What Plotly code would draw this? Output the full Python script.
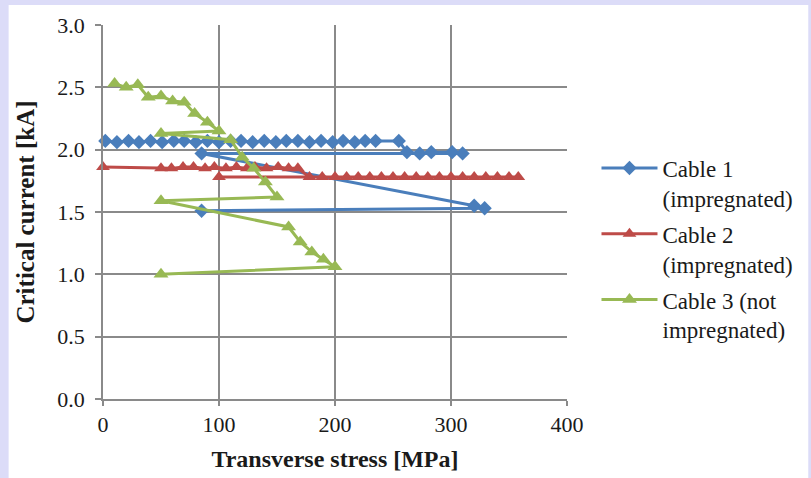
import plotly.graph_objects as go

# ---- data ----
cable1_x = [2, 12, 22, 31, 41, 51, 61, 70, 80, 90, 100, 110, 119, 129, 139, 149, 158, 168, 178, 188,
            198, 207, 217, 226, 235, 255,
            262, 273, 283, 301, 310,
            85, 320, 329, 85]
cable1_y = [2.07, 2.06, 2.07, 2.06, 2.07, 2.06, 2.07, 2.07, 2.06, 2.07, 2.06, 2.07, 2.07, 2.06, 2.07, 2.06, 2.07, 2.07, 2.06, 2.07,
            2.06, 2.07, 2.06, 2.07, 2.07, 2.07,
            1.98, 1.97, 1.98, 1.98, 1.97,
            1.97, 1.55, 1.53, 1.51]

cable2_x = [0, 50, 59, 69, 78, 88, 96, 106, 115, 124, 131, 141, 151, 160, 168,
            178, 189, 200, 210, 220, 230, 240, 250, 260, 270, 280, 290, 300, 310, 320, 330, 340, 350, 358,
            100]
cable2_y = [1.86, 1.85, 1.85, 1.86, 1.86, 1.85, 1.86, 1.85, 1.86, 1.85, 1.86, 1.85, 1.86, 1.85, 1.85,
            1.78, 1.78, 1.78, 1.78, 1.78, 1.78, 1.78, 1.78, 1.78, 1.78, 1.78, 1.78, 1.78, 1.78, 1.78, 1.78, 1.78, 1.78, 1.78,
            1.78]

cable3_x = [10, 20, 30, 39, 50, 60, 70, 79, 90, 100, 50, 110, 120, 130, 140, 150, 50,
            160, 170, 180, 190, 200, 50]
cable3_y = [2.53, 2.50, 2.52, 2.42, 2.43, 2.39, 2.38, 2.29, 2.22, 2.15, 2.13, 2.08, 1.94, 1.85, 1.74, 1.62, 1.59,
            1.38, 1.26, 1.18, 1.12, 1.06, 1.00]

names = ["Cable 1<br>(impregnated)", "Cable 2<br>(impregnated)", "Cable 3 (not<br>impregnated)"]
colors = ["#4a7ebb", "#be4b48", "#98b954"]

FONT = "Liberation Serif, Times New Roman, serif"

L, R, T, B = 103, 236, 25, 79
PW = 811 - L - R
PH = 478 - T - B

fig = go.Figure()
fig.add_trace(go.Scatter(x=cable1_x, y=cable1_y, mode="lines+markers", name=names[0],
                         legendgroup="c1", cliponaxis=False,
                         line=dict(color=colors[0], width=3),
                         marker=dict(symbol="diamond", size=11, color=colors[0])))
fig.add_trace(go.Scatter(x=cable2_x, y=cable2_y, mode="lines+markers", name=names[1],
                         legendgroup="c2", cliponaxis=False,
                         line=dict(color=colors[1], width=3),
                         marker=dict(symbol="triangle-up", size=12, color=colors[1])))
fig.add_trace(go.Scatter(x=cable3_x, y=cable3_y, mode="lines+markers", name=names[2],
                         legendgroup="c3", cliponaxis=False,
                         line=dict(color=colors[2], width=3),
                         marker=dict(symbol="triangle-up", size=13, color=colors[2])))

grid = "#8a8a8a"
fig.update_layout(
    width=811, height=478,
    margin=dict(l=L, r=R, t=T, b=B),
    paper_bgcolor="#dcdcf8",
    plot_bgcolor="white",
    font=dict(family=FONT, color="#1a1a1a", size=22),
    showlegend=True,
    legend=dict(x=(605 - L) / PW, xanchor="left", y=0.675, yanchor="top",
                font=dict(family=FONT, size=23, color="#1a1a1a"),
                bgcolor="rgba(0,0,0,0)", valign="top",
                traceorder="grouped", tracegroupgap=3, itemwidth=56),
    shapes=[dict(type="rect", xref="paper", yref="paper",
                 x0=(7 - L) / PW, x1=(811 - L) / PW + 0.02,
                 y0=-(478 - (478 - B)) / PH - 0.03, y1=((478 - B) - 5) / PH,
                 fillcolor="white", line=dict(width=0), layer="below")],
    xaxis=dict(range=[0, 400], tickvals=[0, 100, 200, 300, 400],
               automargin=False,
               showgrid=True, gridcolor=grid, gridwidth=1.5,
               showline=True, linecolor=grid, linewidth=1.5, mirror=False,
               ticks="outside", ticklen=5, tickcolor=grid, tickwidth=1.5,
               zeroline=False,
               tickfont=dict(family=FONT, size=22),
               title=dict(text="<b>Transverse stress [MPa]</b>", font=dict(family=FONT, size=24),
                          standoff=14)),
    yaxis=dict(range=[0, 3], tickvals=[0, 0.5, 1.0, 1.5, 2.0, 2.5, 3.0],
               ticktext=["0.0", "0.5", "1.0", "1.5", "2.0", "2.5", "3.0"],
               automargin=False,
               showgrid=True, gridcolor=grid, gridwidth=1.5,
               showline=True, linecolor=grid, linewidth=1.5,
               ticks="outside", ticklen=6, tickcolor=grid, tickwidth=1.5,
               ticklabelstandoff=6,
               zeroline=False,
               tickfont=dict(family=FONT, size=22),
               title=dict(text="<b>Critical current [kA]</b>", font=dict(family=FONT, size=25),
                          standoff=16)),
)

fig.write_html("out.html", config={"displayModeBar": False},
               post_script="document.body.style.margin='0';")
